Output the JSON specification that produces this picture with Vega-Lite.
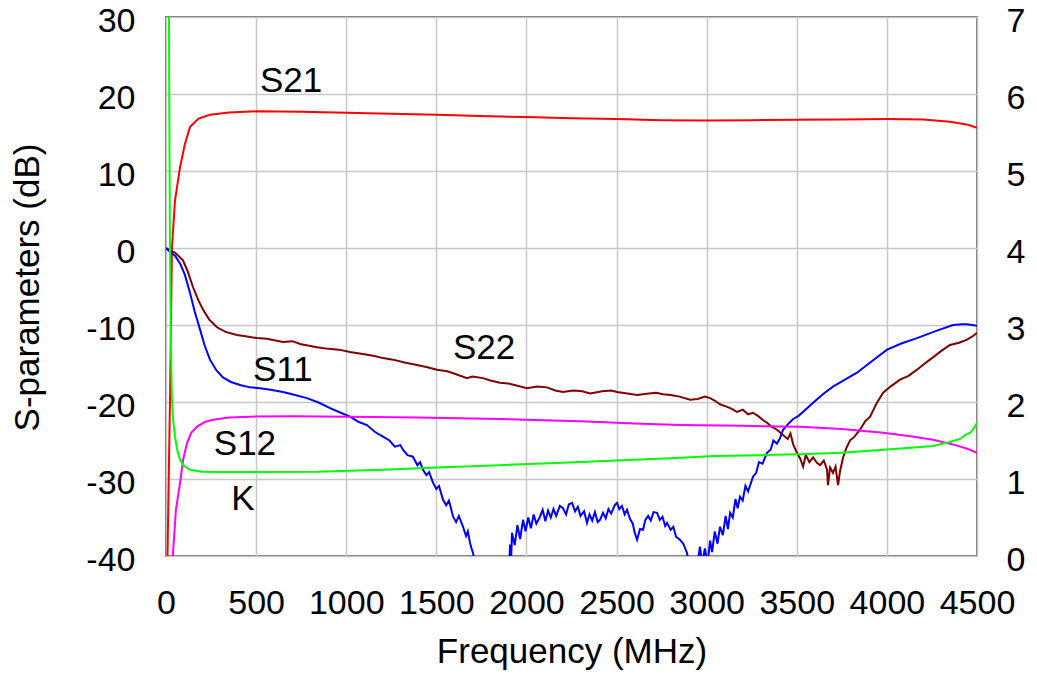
{
  "$schema": "https://vega.github.io/schema/vega-lite/v6.json",
  "width": 811,
  "height": 539,
  "autosize": {"type": "none"},
  "padding": {"left": 166, "top": 17, "right": 60, "bottom": 118},
  "background": "white",
  "config": {
    "font": "Liberation Sans",
    "view": {"stroke": "#404040", "strokeWidth": 1.5},
    "axis": {
      "grid": true,
      "gridColor": "#c8c8c8",
      "gridWidth": 1.5,
      "ticks": false,
      "domain": false,
      "labelFont": "Liberation Sans",
      "labelFontSize": 34,
      "labelColor": "#000000",
      "titleFont": "Liberation Sans",
      "titleFontSize": 35,
      "titleFontWeight": "normal",
      "titleColor": "#000000",
      "labelOverlap": false,
      "labelFlush": false,
      "labelExpr": "'' + datum.value"
    }
  },
  "datasets": {
    "s": [
      {"p":"S21","f":5,"db":-45},{"p":"S21","f":22,"db":-20},{"p":"S21","f":33,"db":0},{"p":"S21","f":50,"db":6.2},{"p":"S21","f":78,"db":10.5},{"p":"S21","f":105,"db":13.5},{"p":"S21","f":133,"db":15.7},{"p":"S21","f":180,"db":16.8},{"p":"S21","f":244,"db":17.3},{"p":"S21","f":350,"db":17.6},{"p":"S21","f":505,"db":17.75},{"p":"S21","f":750,"db":17.7},{"p":"S21","f":1000,"db":17.55},{"p":"S21","f":1250,"db":17.45},{"p":"S21","f":1500,"db":17.3},{"p":"S21","f":1742,"db":17.15},{"p":"S21","f":2000,"db":17.0},{"p":"S21","f":2250,"db":16.85},{"p":"S21","f":2500,"db":16.75},{"p":"S21","f":2750,"db":16.6},{"p":"S21","f":3000,"db":16.55},{"p":"S21","f":3250,"db":16.6},{"p":"S21","f":3500,"db":16.65},{"p":"S21","f":3750,"db":16.7},{"p":"S21","f":4000,"db":16.75},{"p":"S21","f":4200,"db":16.7},{"p":"S21","f":4350,"db":16.4},{"p":"S21","f":4450,"db":16.0},{"p":"S21","f":4500,"db":15.6},

      {"p":"S22","f":0,"db":0},{"p":"S22","f":22,"db":-0.3},{"p":"S22","f":50,"db":-0.6},{"p":"S22","f":94,"db":-1.6},{"p":"S22","f":120,"db":-3.0},{"p":"S22","f":150,"db":-5.1},{"p":"S22","f":180,"db":-6.8},{"p":"S22","f":205,"db":-8},{"p":"S22","f":240,"db":-9.3},{"p":"S22","f":283,"db":-10.3},{"p":"S22","f":330,"db":-10.9},{"p":"S22","f":394,"db":-11.3},{"p":"S22","f":450,"db":-11.5},{"p":"S22","f":505,"db":-11.7},{"p":"S22","f":560,"db":-11.8},{"p":"S22","f":649,"db":-12.2},{"p":"S22","f":700,"db":-12.1},{"p":"S22","f":750,"db":-12.5},{"p":"S22","f":838,"db":-12.9},{"p":"S22","f":900,"db":-13.1},{"p":"S22","f":960,"db":-13.2},{"p":"S22","f":1021,"db":-13.5},{"p":"S22","f":1100,"db":-13.8},{"p":"S22","f":1150,"db":-14.0},{"p":"S22","f":1204,"db":-14.3},{"p":"S22","f":1260,"db":-14.5},{"p":"S22","f":1330,"db":-14.9},{"p":"S22","f":1393,"db":-15.2},{"p":"S22","f":1450,"db":-15.5},{"p":"S22","f":1504,"db":-15.8},{"p":"S22","f":1560,"db":-16.0},{"p":"S22","f":1610,"db":-16.4},{"p":"S22","f":1670,"db":-16.9},{"p":"S22","f":1700,"db":-16.7},{"p":"S22","f":1759,"db":-16.9},{"p":"S22","f":1800,"db":-17.2},{"p":"S22","f":1853,"db":-17.5},{"p":"S22","f":1900,"db":-17.6},{"p":"S22","f":1950,"db":-17.9},{"p":"S22","f":2003,"db":-18.2},{"p":"S22","f":2060,"db":-18.0},{"p":"S22","f":2114,"db":-18.1},{"p":"S22","f":2160,"db":-18.5},{"p":"S22","f":2203,"db":-18.7},{"p":"S22","f":2260,"db":-18.5},{"p":"S22","f":2310,"db":-18.6},{"p":"S22","f":2353,"db":-18.9},{"p":"S22","f":2420,"db":-18.6},{"p":"S22","f":2470,"db":-18.5},{"p":"S22","f":2503,"db":-18.7},{"p":"S22","f":2560,"db":-18.9},{"p":"S22","f":2614,"db":-19.1},{"p":"S22","f":2680,"db":-18.9},{"p":"S22","f":2720,"db":-18.8},{"p":"S22","f":2758,"db":-19.0},{"p":"S22","f":2800,"db":-19.1},{"p":"S22","f":2850,"db":-19.3},{"p":"S22","f":2908,"db":-19.7},{"p":"S22","f":2950,"db":-19.6},{"p":"S22","f":2990,"db":-19.3},{"p":"S22","f":3019,"db":-19.5},{"p":"S22","f":3050,"db":-19.9},{"p":"S22","f":3074,"db":-20.3},{"p":"S22","f":3110,"db":-20.6},{"p":"S22","f":3140,"db":-20.9},{"p":"S22","f":3168,"db":-21.3},{"p":"S22","f":3200,"db":-21.0},{"p":"S22","f":3230,"db":-21.6},{"p":"S22","f":3257,"db":-21.4},{"p":"S22","f":3290,"db":-21.9},{"p":"S22","f":3310,"db":-22.3},{"p":"S22","f":3335,"db":-22.7},{"p":"S22","f":3360,"db":-23.2},{"p":"S22","f":3390,"db":-23.6},{"p":"S22","f":3424,"db":-24.3},{"p":"S22","f":3450,"db":-24.8},{"p":"S22","f":3465,"db":-24.1},{"p":"S22","f":3480,"db":-25.5},{"p":"S22","f":3501,"db":-26.6},{"p":"S22","f":3520,"db":-27.4},{"p":"S22","f":3535,"db":-28.4},{"p":"S22","f":3550,"db":-26.9},{"p":"S22","f":3570,"db":-27.8},{"p":"S22","f":3590,"db":-27.2},{"p":"S22","f":3612,"db":-27.9},{"p":"S22","f":3630,"db":-28.2},{"p":"S22","f":3650,"db":-27.6},{"p":"S22","f":3668,"db":-28.8},{"p":"S22","f":3673,"db":-30.8},{"p":"S22","f":3685,"db":-28.5},{"p":"S22","f":3701,"db":-29.2},{"p":"S22","f":3715,"db":-28.4},{"p":"S22","f":3729,"db":-30.8},{"p":"S22","f":3740,"db":-29.0},{"p":"S22","f":3757,"db":-27.2},{"p":"S22","f":3775,"db":-26.0},{"p":"S22","f":3795,"db":-25},{"p":"S22","f":3820,"db":-24.5},{"p":"S22","f":3851,"db":-23.6},{"p":"S22","f":3880,"db":-22.5},{"p":"S22","f":3907,"db":-21.9},{"p":"S22","f":3940,"db":-20.3},{"p":"S22","f":3979,"db":-18.8},{"p":"S22","f":4020,"db":-18.0},{"p":"S22","f":4073,"db":-17.1},{"p":"S22","f":4120,"db":-16.6},{"p":"S22","f":4167,"db":-15.8},{"p":"S22","f":4210,"db":-15.0},{"p":"S22","f":4256,"db":-14.2},{"p":"S22","f":4300,"db":-13.4},{"p":"S22","f":4350,"db":-12.6},{"p":"S22","f":4400,"db":-12.3},{"p":"S22","f":4445,"db":-11.9},{"p":"S22","f":4480,"db":-11.4},{"p":"S22","f":4500,"db":-11.0},

      {"p":"S11","f":0,"db":0},{"p":"S11","f":22,"db":-0.5},{"p":"S11","f":50,"db":-1.0},{"p":"S11","f":78,"db":-2},{"p":"S11","f":105,"db":-3.5},{"p":"S11","f":133,"db":-5.8},{"p":"S11","f":160,"db":-8.3},{"p":"S11","f":189,"db":-10.6},{"p":"S11","f":215,"db":-12.7},{"p":"S11","f":244,"db":-14.5},{"p":"S11","f":280,"db":-15.9},{"p":"S11","f":316,"db":-16.8},{"p":"S11","f":360,"db":-17.4},{"p":"S11","f":411,"db":-17.8},{"p":"S11","f":465,"db":-18.1},{"p":"S11","f":522,"db":-18.2},{"p":"S11","f":580,"db":-18.4},{"p":"S11","f":649,"db":-18.7},{"p":"S11","f":700,"db":-19.0},{"p":"S11","f":782,"db":-19.5},{"p":"S11","f":850,"db":-20.1},{"p":"S11","f":910,"db":-20.8},{"p":"S11","f":960,"db":-21.3},{"p":"S11","f":1021,"db":-21.9},{"p":"S11","f":1070,"db":-22.6},{"p":"S11","f":1115,"db":-23},{"p":"S11","f":1160,"db":-23.9},{"p":"S11","f":1204,"db":-24.5},{"p":"S11","f":1240,"db":-25.0},{"p":"S11","f":1270,"db":-25.8},{"p":"S11","f":1300,"db":-25.6},{"p":"S11","f":1315,"db":-26.2},{"p":"S11","f":1340,"db":-26.9},{"p":"S11","f":1370,"db":-27.1},{"p":"S11","f":1395,"db":-28.2},{"p":"S11","f":1410,"db":-27.8},{"p":"S11","f":1426,"db":-28.8},{"p":"S11","f":1445,"db":-29.5},{"p":"S11","f":1460,"db":-29.1},{"p":"S11","f":1482,"db":-30.5},{"p":"S11","f":1500,"db":-31.3},{"p":"S11","f":1515,"db":-30.9},{"p":"S11","f":1537,"db":-32.7},{"p":"S11","f":1555,"db":-33.4},{"p":"S11","f":1570,"db":-32.8},{"p":"S11","f":1593,"db":-34.9},{"p":"S11","f":1610,"db":-35.6},{"p":"S11","f":1625,"db":-34.8},{"p":"S11","f":1648,"db":-36.2},{"p":"S11","f":1665,"db":-37.4},{"p":"S11","f":1675,"db":-36.8},{"p":"S11","f":1687,"db":-38.3},{"p":"S11","f":1695,"db":-39.0},{"p":"S11","f":1704,"db":-39.6},{"p":"S11","f":1712,"db":-41},{"p":"S11","f":1800,"db":-45},{"p":"S11","f":1880,"db":-45},{"p":"S11","f":1905,"db":-41},{"p":"S11","f":1909,"db":-38.5},{"p":"S11","f":1915,"db":-40.5},{"p":"S11","f":1920,"db":-37.0},{"p":"S11","f":1935,"db":-38.6},{"p":"S11","f":1950,"db":-36.0},{"p":"S11","f":1965,"db":-37.8},{"p":"S11","f":1981,"db":-35.3},{"p":"S11","f":1995,"db":-36.8},{"p":"S11","f":2010,"db":-35.0},{"p":"S11","f":2025,"db":-36.4},{"p":"S11","f":2040,"db":-34.6},{"p":"S11","f":2055,"db":-35.8},{"p":"S11","f":2075,"db":-34.9},{"p":"S11","f":2090,"db":-34.0},{"p":"S11","f":2105,"db":-35.5},{"p":"S11","f":2120,"db":-34.1},{"p":"S11","f":2135,"db":-35.0},{"p":"S11","f":2150,"db":-33.9},{"p":"S11","f":2165,"db":-34.8},{"p":"S11","f":2185,"db":-33.5},{"p":"S11","f":2203,"db":-33.8},{"p":"S11","f":2220,"db":-34.6},{"p":"S11","f":2235,"db":-33.3},{"p":"S11","f":2253,"db":-33.1},{"p":"S11","f":2270,"db":-34.2},{"p":"S11","f":2285,"db":-33.6},{"p":"S11","f":2300,"db":-34.8},{"p":"S11","f":2320,"db":-34.2},{"p":"S11","f":2336,"db":-35.7},{"p":"S11","f":2350,"db":-34.6},{"p":"S11","f":2365,"db":-35.4},{"p":"S11","f":2380,"db":-34.3},{"p":"S11","f":2395,"db":-35.6},{"p":"S11","f":2408,"db":-35.3},{"p":"S11","f":2425,"db":-34.4},{"p":"S11","f":2440,"db":-35.1},{"p":"S11","f":2455,"db":-33.9},{"p":"S11","f":2470,"db":-34.5},{"p":"S11","f":2490,"db":-33.4},{"p":"S11","f":2503,"db":-33.1},{"p":"S11","f":2515,"db":-33.9},{"p":"S11","f":2530,"db":-33.5},{"p":"S11","f":2545,"db":-34.6},{"p":"S11","f":2558,"db":-34},{"p":"S11","f":2575,"db":-35.2},{"p":"S11","f":2590,"db":-35.8},{"p":"S11","f":2600,"db":-36.9},{"p":"S11","f":2614,"db":-37.9},{"p":"S11","f":2630,"db":-36.5},{"p":"S11","f":2647,"db":-36.6},{"p":"S11","f":2660,"db":-35.3},{"p":"S11","f":2675,"db":-34.8},{"p":"S11","f":2690,"db":-35.4},{"p":"S11","f":2705,"db":-34.3},{"p":"S11","f":2725,"db":-34.4},{"p":"S11","f":2740,"db":-35.3},{"p":"S11","f":2755,"db":-34.9},{"p":"S11","f":2770,"db":-36.1},{"p":"S11","f":2780,"db":-35.7},{"p":"S11","f":2800,"db":-36.6},{"p":"S11","f":2815,"db":-36.2},{"p":"S11","f":2830,"db":-37.5},{"p":"S11","f":2852,"db":-37.9},{"p":"S11","f":2870,"db":-38.4},{"p":"S11","f":2891,"db":-39.6},{"p":"S11","f":2900,"db":-41},{"p":"S11","f":2940,"db":-42},{"p":"S11","f":2955,"db":-40},{"p":"S11","f":2963,"db":-38.8},{"p":"S11","f":2975,"db":-41},{"p":"S11","f":2990,"db":-39.0},{"p":"S11","f":3005,"db":-41},{"p":"S11","f":3019,"db":-38},{"p":"S11","f":3030,"db":-39.5},{"p":"S11","f":3045,"db":-36.8},{"p":"S11","f":3060,"db":-38.4},{"p":"S11","f":3074,"db":-36.2},{"p":"S11","f":3090,"db":-37.3},{"p":"S11","f":3105,"db":-34.8},{"p":"S11","f":3118,"db":-36.5},{"p":"S11","f":3130,"db":-34.4},{"p":"S11","f":3145,"db":-35.0},{"p":"S11","f":3160,"db":-32.6},{"p":"S11","f":3172,"db":-33.8},{"p":"S11","f":3185,"db":-32.3},{"p":"S11","f":3200,"db":-32.8},{"p":"S11","f":3215,"db":-30.9},{"p":"S11","f":3230,"db":-31.6},{"p":"S11","f":3257,"db":-29.7},{"p":"S11","f":3275,"db":-29.2},{"p":"S11","f":3290,"db":-27.8},{"p":"S11","f":3310,"db":-28.0},{"p":"S11","f":3335,"db":-26.6},{"p":"S11","f":3355,"db":-26.2},{"p":"S11","f":3370,"db":-25.0},{"p":"S11","f":3390,"db":-25.4},{"p":"S11","f":3407,"db":-24.7},{"p":"S11","f":3424,"db":-23.6},{"p":"S11","f":3450,"db":-22.9},{"p":"S11","f":3480,"db":-22.2},{"p":"S11","f":3510,"db":-21.8},{"p":"S11","f":3557,"db":-20.8},{"p":"S11","f":3600,"db":-19.9},{"p":"S11","f":3650,"db":-18.9},{"p":"S11","f":3701,"db":-18},{"p":"S11","f":3760,"db":-17.2},{"p":"S11","f":3834,"db":-16.2},{"p":"S11","f":3900,"db":-15.0},{"p":"S11","f":4001,"db":-13.2},{"p":"S11","f":4080,"db":-12.4},{"p":"S11","f":4167,"db":-11.7},{"p":"S11","f":4270,"db":-10.8},{"p":"S11","f":4367,"db":-10},{"p":"S11","f":4420,"db":-9.9},{"p":"S11","f":4445,"db":-9.9},{"p":"S11","f":4500,"db":-10.1},

      {"p":"S12","f":20,"db":-60},{"p":"S12","f":33,"db":-45},{"p":"S12","f":39,"db":-39.6},{"p":"S12","f":55,"db":-34},{"p":"S12","f":78,"db":-30.5},{"p":"S12","f":95,"db":-27.5},{"p":"S12","f":117,"db":-25.3},{"p":"S12","f":140,"db":-24.0},{"p":"S12","f":172,"db":-23.2},{"p":"S12","f":215,"db":-22.6},{"p":"S12","f":261,"db":-22.3},{"p":"S12","f":350,"db":-22.0},{"p":"S12","f":466,"db":-21.9},{"p":"S12","f":700,"db":-21.85},{"p":"S12","f":1021,"db":-21.9},{"p":"S12","f":1400,"db":-22.0},{"p":"S12","f":1853,"db":-22.2},{"p":"S12","f":2297,"db":-22.5},{"p":"S12","f":2600,"db":-22.8},{"p":"S12","f":2852,"db":-23},{"p":"S12","f":3200,"db":-23.1},{"p":"S12","f":3518,"db":-23.2},{"p":"S12","f":3750,"db":-23.5},{"p":"S12","f":3979,"db":-24},{"p":"S12","f":4150,"db":-24.5},{"p":"S12","f":4256,"db":-24.9},{"p":"S12","f":4380,"db":-25.6},{"p":"S12","f":4450,"db":-26.1},{"p":"S12","f":4500,"db":-26.6}
    ],
    "k": [
      {"f":10,"k":10},{"f":15,"k":8},{"f":18,"k":6},{"f":22,"k":4},{"f":26,"k":3},{"f":30,"k":2.4},{"f":33,"k":2.03},{"f":40,"k":1.75},{"f":50,"k":1.55},{"f":62,"k":1.38},{"f":78,"k":1.25},{"f":100,"k":1.17},{"f":133,"k":1.12},{"f":200,"k":1.095},{"f":283,"k":1.09},{"f":500,"k":1.09},{"f":839,"k":1.095},{"f":1204,"k":1.12},{"f":1500,"k":1.15},{"f":1853,"k":1.18},{"f":2200,"k":1.21},{"f":2497,"k":1.24},{"f":2800,"k":1.27},{"f":3046,"k":1.3},{"f":3300,"k":1.31},{"f":3518,"k":1.32},{"f":3750,"k":1.34},{"f":3979,"k":1.38},{"f":4150,"k":1.41},{"f":4256,"k":1.43},{"f":4350,"k":1.48},{"f":4406,"k":1.52},{"f":4440,"k":1.58},{"f":4462,"k":1.6},{"f":4480,"k":1.65},{"f":4500,"k":1.73}
    ],
    "labels": [
      {"t":"S21","f":694,"db":21.7},
      {"t":"S22","f":1765,"db":-13.0},
      {"t":"S11","f":649,"db":-15.8},
      {"t":"S12","f":438,"db":-25.4},
      {"t":"K","f":427,"db":-32.6}
    ]
  },
  "layer": [
    {
      "encoding": {
        "x": {"field": "f", "type": "quantitative", "scale": {"domain": [0, 4500], "nice": false, "zero": false},
              "axis": {"orient": "bottom", "values": [0,500,1000,1500,2000,2500,3000,3500,4000,4500], "labelPadding": 30, "title": "Frequency (MHz)", "titleX": 405.5, "titleY": 78, "titleBaseline": "top", "titleAnchor": "middle"}},
        "y": {"field": "db", "type": "quantitative", "scale": {"domain": [-40, 30], "nice": false, "zero": false},
              "axis": {"orient": "left", "values": [-40,-30,-20,-10,0,10,20,30], "labelPadding": 31, "labelOffset": 4, "title": "S-parameters (dB)", "titleX": -121, "titleY": 270, "titleBaseline": "bottom", "titleAngle": -90, "titleAnchor": "middle"}}
      },
      "layer": [
        {
          "data": {"name": "s"},
          "mark": {"type": "line", "strokeWidth": 2, "clip": true},
          "encoding": {
            "color": {"field": "p", "type": "nominal", "scale": {"domain": ["S21","S22","S11","S12"], "range": ["#ff0000","#800000","#0000ff","#ff00ff"]}, "legend": null},
            "order": {"field": "f", "type": "quantitative"}
          }
        },
        {
          "data": {"name": "labels"},
          "mark": {"type": "text", "fontSize": 35, "font": "Liberation Sans", "color": "#000000", "align": "center", "baseline": "middle"},
          "encoding": {"text": {"field": "t", "type": "nominal"}}
        }
      ]
    },
    {
      "data": {"name": "k"},
      "mark": {"type": "line", "strokeWidth": 2, "color": "#00ff00", "clip": true},
      "encoding": {
        "x": {"field": "f", "type": "quantitative", "scale": {"domain": [0, 4500], "nice": false, "zero": false},
              "axis": {"orient": "bottom", "values": [0,500,1000,1500,2000,2500,3000,3500,4000,4500], "labelPadding": 30, "title": "Frequency (MHz)", "titleX": 405.5, "titleY": 78, "titleBaseline": "top", "titleAnchor": "middle"}},
        "y": {"field": "k", "type": "quantitative", "scale": {"domain": [0, 7], "nice": false, "zero": false},
              "axis": {"orient": "right", "values": [0,1,2,3,4,5,6,7], "grid": false, "labelPadding": 29, "labelOffset": 4, "title": null}},
        "order": {"field": "f", "type": "quantitative"}
      }
    }
  ],
  "resolve": {"scale": {"y": "independent"}}
}
